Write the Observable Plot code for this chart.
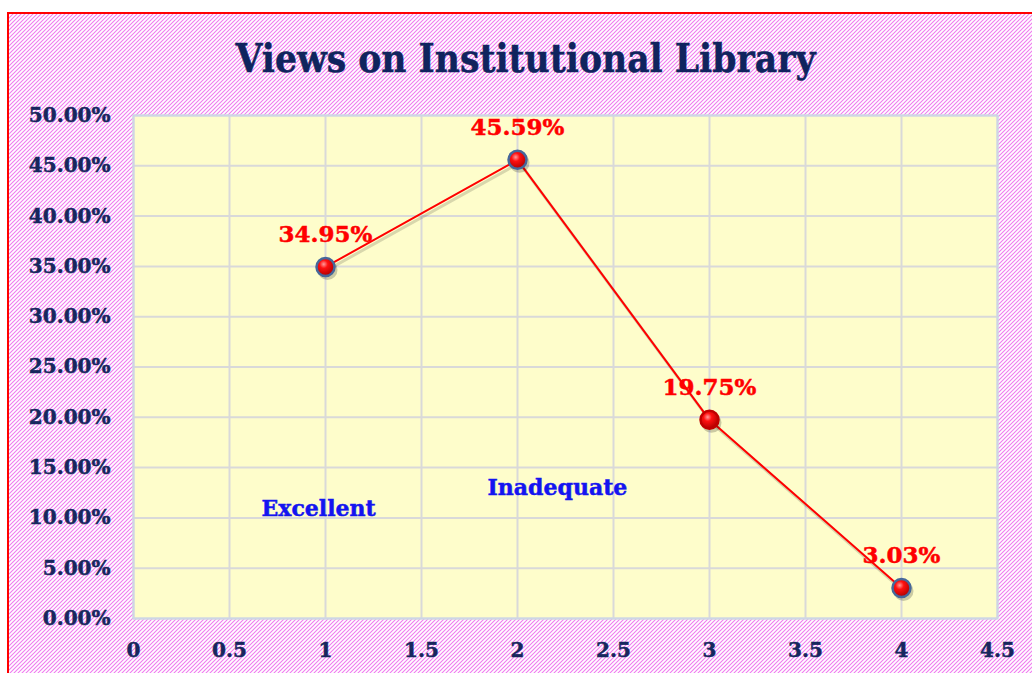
<!DOCTYPE html>
<html><head><meta charset="utf-8">
<script src="https://cdn.jsdelivr.net/npm/d3@7"></script>
<script src="https://cdn.jsdelivr.net/npm/@observablehq/plot@0.6"></script>
<style>
body{margin:0;background:#fff;}
#wrap{position:relative;width:1032px;height:673px;overflow:hidden;}
#frame{position:absolute;left:7px;top:12px;width:1040px;height:700px;border-left:2px solid #ff0000;border-top:2px solid #ff0000;
background-color:#fff;
background-image:url("data:image/svg+xml;utf8,<svg xmlns='http://www.w3.org/2000/svg' width='4' height='4'><path d='M-1,1 l2,-2 M0,4 l4,-4 M3,5 l2,-2' stroke='%23f07cf0' stroke-width='1.1'/></svg>");
background-size:4px 4px;}
#chart{position:absolute;left:0;top:0;}
</style></head>
<body>
<div id="wrap"><div id="frame"></div><div id="chart"></div></div>
<script>
const titleText = "Views on Institutional Library";
const xValues = [1, 2, 3, 4];
const shares = [0.3495, 0.4559, 0.1975, 0.0303];
const shareLabels = ["34.95%", "45.59%", "19.75%", "3.03%"];
const ringColors = ["#46679a", "#46679a", "#c00000", "#46679a"];
const noteTexts = ["Excellent", "Inadequate"];
const noteX = [0.964, 2.208];
const noteY = [0.1093, 0.1302];
const xTicks = [0, 0.5, 1, 1.5, 2, 2.5, 3, 3.5, 4, 4.5];
const yTicks = [0, 0.05, 0.10, 0.15, 0.20, 0.25, 0.30, 0.35, 0.40, 0.45, 0.50];

const points = xValues.map((x, i) => ({x, y: shares[i], label: shareLabels[i], ring: ringColors[i]}));
const notes = noteTexts.map((t, i) => ({t, x: noteX[i], y: noteY[i]}));

const svg = Plot.plot({
  width: 1032,
  height: 673,
  marginLeft: 133,
  marginRight: 35,
  marginTop: 115,
  marginBottom: 55,
  style: {background: "transparent", fontFamily: "DejaVu Serif", fontWeight: "bold", color: "#17275e", overflow: "visible"},
  x: {domain: [0, 4.5]},
  y: {domain: [0, 0.5]},
  color: {type: "identity"},
  marks: [
    Plot.frame({fill: "#fefdcb", stroke: "none"}),
    Plot.gridX(xTicks, {stroke: "#d9d9d9", strokeOpacity: 1, strokeWidth: 2}),
    Plot.gridY(yTicks, {stroke: "#d9d9d9", strokeOpacity: 1, strokeWidth: 2}),
    Plot.frame({stroke: "#cdd6e6", strokeWidth: 2}),
    Plot.axisY({ticks: yTicks, tickFormat: d3.format(".2%"), tickSize: 0, tickPadding: 23, fontSize: 20, fill: "#17275e", label: null}),
    Plot.axisX({ticks: xTicks, tickFormat: d => String(d), tickSize: 0, tickPadding: 24, fontSize: 20, fill: "#17275e", label: null}),
    Plot.line(points, {x: "x", y: "y", stroke: "#000", strokeOpacity: 0.15, strokeWidth: 3, dx: 2, dy: 3}),
    Plot.line(points, {x: "x", y: "y", stroke: "#ff0000", strokeWidth: 2}),
    Plot.dot(points, {x: "x", y: "y", r: 10, fill: "#000", fillOpacity: 0.2, stroke: "none", dx: 2, dy: 3}),
    Plot.dot(points, {x: "x", y: "y", r: 9, fill: "url(#ball)", stroke: "ring", strokeWidth: 2.5}),
    Plot.text(points, {x: "x", y: "y", text: "label", dy: -32, fill: "#ff0000", fontSize: 23, fontWeight: "bold"}),
    Plot.text(notes, {x: "x", y: "y", text: "t", fill: "#1414f0", fontSize: 22, fontWeight: "bold"}),
    Plot.text([titleText], {frameAnchor: "top", lineAnchor: "middle", dx: -40, dy: -56, fill: "#10245e", fontSize: 40, fontWeight: "bold", className: "title"})
  ]
});

const defs = d3.select(svg).insert("defs", ":first-child");
const g = defs.append("radialGradient").attr("id", "ball").attr("cx", "40%").attr("cy", "35%").attr("r", "65%");
g.append("stop").attr("offset", "0%").attr("stop-color", "#ff9a9a");
g.append("stop").attr("offset", "35%").attr("stop-color", "#ff1010");
g.append("stop").attr("offset", "100%").attr("stop-color", "#b00000");

d3.select(svg).selectAll("g.title text").attr("textLength", 580).attr("lengthAdjust", "spacingAndGlyphs");

document.getElementById("chart").appendChild(svg);

// thicken glyphs slightly to approach the heavier bold face of the original
d3.select(svg).selectAll("text").each(function () {
  const f = getComputedStyle(this).fill;
  this.setAttribute("stroke", f);
  this.setAttribute("stroke-width", "0.5");
});
</script>
</body></html>
